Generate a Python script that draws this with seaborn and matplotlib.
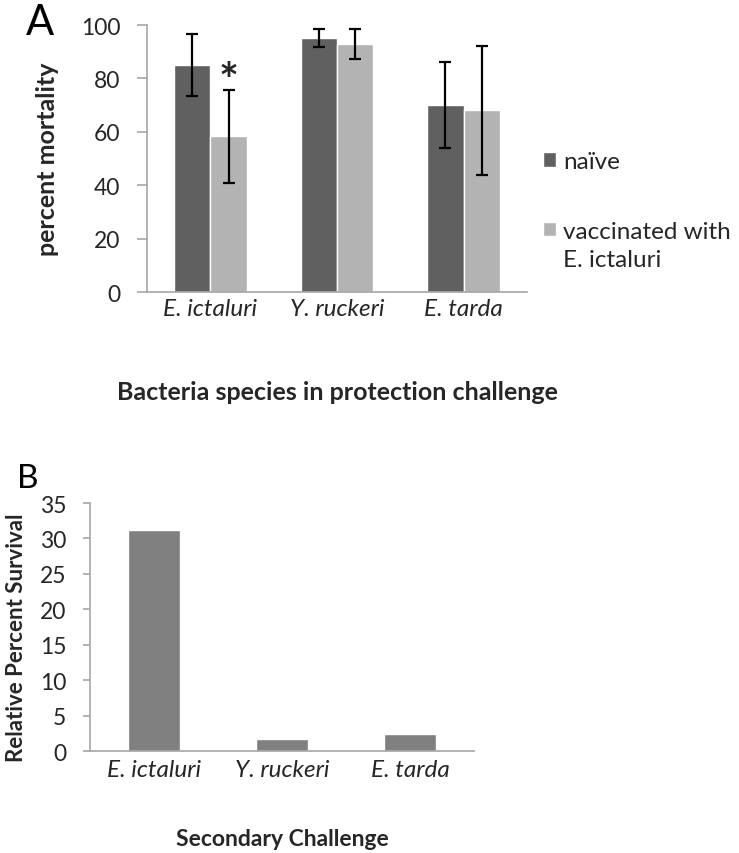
import matplotlib
matplotlib.use("Agg")
import matplotlib.pyplot as plt
import seaborn as sns
import pandas as pd
import numpy as np

sns.set_style("white")
plt.rcParams['font.family'] = ['Lato', 'DejaVu Sans']

# Panel A data
species = ["E. ictaluri", "Y. ruckeri", "E. tarda"]
groups = ["naïve", "vaccinated with\nE. ictaluri"]
naive_vals = [85, 95, 70]
naive_err = [11.6, 3.4, 16]
vacc_vals = [58.3, 93, 68]
vacc_err = [17.5, 5.6, 24]
yticks_a = [0, 20, 40, 60, 80, 100]

# Panel B data
rps_vals = [31.2, 1.7, 2.4]
yticks_b = [0, 5, 10, 15, 20, 25, 30, 35]

dark = "#606060"
light = "#b3b3b3"
midgray = "#808080"
spine_c = "#a6a6a6"
txt_c = "#262626"

df_a = pd.DataFrame({
    "species": species * 2,
    "group": [groups[0]] * 3 + [groups[1]] * 3,
    "value": naive_vals + vacc_vals,
    "err": naive_err + vacc_err,
})

fig = plt.figure(figsize=(7.39, 8.54), dpi=100)

axA = fig.add_axes([0.1989, 0.6569, 0.5142, 0.3126])
sns.barplot(data=df_a, x="species", y="value", hue="group", order=species,
            hue_order=groups, palette=[dark, light], width=0.575,
            errorbar=None, saturation=1, ax=axA, legend=True)

# error bars at bar centres
for cont, errs in zip(axA.containers, [naive_err, vacc_err]):
    xs = [p.get_x() + p.get_width() / 2 for p in cont.patches]
    hs = [p.get_height() for p in cont.patches]
    axA.errorbar(xs, hs, yerr=errs, fmt="none", ecolor="black",
                 elinewidth=1.6, capsize=4, capthick=1.6, zorder=5)

# asterisk above vaccinated E. ictaluri
p = axA.containers[1].patches[0]
axA.text(p.get_x() + p.get_width() / 2, vacc_vals[0] + vacc_err[0] + 3, "*",
         ha="center", va="center", fontsize=34, fontweight="bold", color=txt_c)

axA.set_ylim(0, 100)
axA.set_xlim(-0.5, 2.5)
axA.set_yticks(yticks_a)
axA.set_yticklabels([str(t) for t in yticks_a], fontsize=16.5, color=txt_c)
axA.set_xticks([0, 1, 2])
axA.set_xticklabels(species, fontsize=17.5, style="italic", color=txt_c)
axA.set_xticks([-0.5, 0.5, 1.5, 2.5], minor=True)
axA.tick_params(axis="x", which="major", length=0, pad=4)
axA.tick_params(axis="x", which="minor", length=6.5, color=spine_c, width=1.2)
axA.tick_params(axis="y", length=7, color=spine_c, width=1.2, direction="out", left=True, pad=12)
for s in ["top", "right"]:
    axA.spines[s].set_visible(False)
for s in ["left", "bottom"]:
    axA.spines[s].set_color(spine_c)
    axA.spines[s].set_linewidth(1.2)
axA.set_ylabel("percent mortality", fontsize=18, fontweight="bold", color=txt_c, labelpad=16)
axA.set_xlabel("Bacteria species in protection challenge", fontsize=18,
               fontweight="bold", color=txt_c, labelpad=44)

handles, labels = axA.get_legend_handles_labels()
axA.get_legend().remove()
label_lines = [lab.split("\n") for lab in labels]
leg = fig.legend(handles, [ll[0] for ll in label_lines], loc="upper left",
                 bbox_to_anchor=(0.7348, 0.822), frameon=False, fontsize=17.5,
                 handlelength=0.54, handleheight=0.54, borderpad=0,
                 borderaxespad=0, handletextpad=0.29, labelspacing=2.0,
                 labelcolor=txt_c)
fig.canvas.draw()
renderer = fig.canvas.get_renderer()
for t, ll in zip(leg.get_texts(), label_lines):
    if len(ll) > 1:
        bb = t.get_window_extent(renderer)
        for k, extra in enumerate(ll[1:], start=1):
            fig.text(bb.x0, (bb.y0 + bb.y1) / 2 - 28 * k, extra, transform=None,
                     fontsize=17.5, color=txt_c, ha="left", va="center")

fig.text(0.0352, 0.959, "A", fontsize=30, va="baseline", ha="left", color="black")

# Panel B
df_b = pd.DataFrame({"species": species, "rps": rps_vals})
axB = fig.add_axes([0.1218, 0.1194, 0.5196, 0.2904])
sns.barplot(data=df_b, x="species", y="rps", order=species, color=midgray,
            width=0.4, errorbar=None, saturation=1, ax=axB)
axB.set_ylim(0, 35)
axB.set_xlim(-0.5, 2.5)
axB.set_yticks(yticks_b)
axB.set_yticklabels([str(t) for t in yticks_b], fontsize=16.5, color=txt_c)
axB.set_xticks([0, 1, 2])
axB.set_xticklabels(species, fontsize=17.5, style="italic", color=txt_c)
axB.set_xticks([-0.5, 0.5, 1.5, 2.5], minor=True)
axB.tick_params(axis="x", which="major", length=0, pad=6)
axB.tick_params(axis="x", which="minor", length=6, color=spine_c, width=1.2)
axB.tick_params(axis="y", length=5, color=spine_c, width=1.2, direction="out", left=True, pad=12)
for s in ["top", "right"]:
    axB.spines[s].set_visible(False)
for s in ["left", "bottom"]:
    axB.spines[s].set_color(spine_c)
    axB.spines[s].set_linewidth(1.2)
axB.set_ylabel("Relative Percent Survival", fontsize=16, fontweight="bold", color=txt_c, labelpad=9)
axB.yaxis.label.set_y(0.46)
axB.set_xlabel("Secondary Challenge", fontsize=16.5, fontweight="bold", color=txt_c, labelpad=34.5)

fig.text(0.023, 0.4286, "B", fontsize=24, va="baseline", ha="left", color="black")

fig.savefig("out.png", dpi=100)
